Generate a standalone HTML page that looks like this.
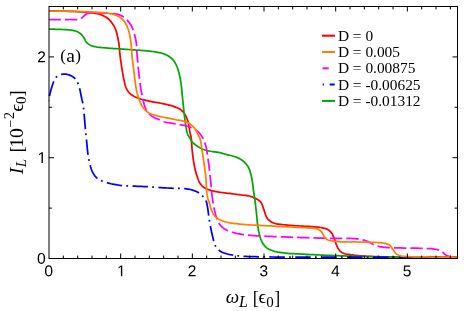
<!DOCTYPE html>
<html><head><meta charset="utf-8"><title>chart</title><style>html,body{margin:0;padding:0;background:#fff;}body{width:464px;height:311px;overflow:hidden;font-family:"Liberation Sans",sans-serif;}svg{display:block;will-change:transform;}</style></head><body>
<svg width="464" height="311" viewBox="0 0 464 311">
<rect width="464" height="311" fill="#fff"/>
<g fill="none" stroke-width="1.75" stroke-linejoin="round">
<path d="M49.00,10.80 L52.94,10.92 L56.99,11.02 L61.07,11.11 L65.14,11.21 L69.12,11.32 L72.97,11.45 L76.61,11.61 L80.00,11.80 L82.30,11.95 L84.55,12.11 L86.72,12.28 L88.80,12.45 L90.79,12.65 L92.66,12.87 L94.40,13.12 L96.00,13.40 L96.93,13.59 L97.79,13.78 L98.58,13.97 L99.34,14.18 L100.07,14.41 L100.78,14.66 L101.51,14.94 L102.25,15.25 L103.06,15.62 L103.89,16.03 L104.72,16.47 L105.53,16.93 L106.33,17.42 L107.10,17.93 L107.82,18.46 L108.50,19.00 L109.06,19.50 L109.58,20.01 L110.06,20.54 L110.53,21.08 L110.97,21.64 L111.40,22.21 L111.83,22.80 L112.25,23.40 L112.69,24.05 L113.13,24.72 L113.55,25.40 L113.96,26.10 L114.35,26.81 L114.72,27.53 L115.07,28.26 L115.40,29.00 L115.70,29.75 L115.97,30.50 L116.21,31.27 L116.44,32.05 L116.65,32.83 L116.85,33.63 L117.05,34.43 L117.25,35.25 L117.46,36.13 L117.67,37.01 L117.87,37.89 L118.05,38.79 L118.23,39.71 L118.41,40.68 L118.58,41.68 L118.75,42.75 L118.97,44.36 L119.17,46.09 L119.35,47.92 L119.52,49.82 L119.70,51.76 L119.88,53.71 L120.08,55.63 L120.30,57.50 L120.55,59.35 L120.81,61.24 L121.09,63.14 L121.37,65.03 L121.66,66.89 L121.95,68.68 L122.23,70.39 L122.50,72.00 L122.69,73.11 L122.86,74.16 L123.03,75.16 L123.20,76.13 L123.38,77.09 L123.57,78.04 L123.77,79.00 L124.00,80.00 L124.25,81.10 L124.51,82.24 L124.77,83.39 L125.05,84.54 L125.36,85.67 L125.70,86.76 L126.08,87.80 L126.50,88.75 L126.88,89.48 L127.28,90.18 L127.71,90.84 L128.16,91.47 L128.63,92.07 L129.14,92.65 L129.68,93.21 L130.25,93.75 L130.90,94.31 L131.59,94.83 L132.31,95.32 L133.07,95.79 L133.86,96.24 L134.70,96.67 L135.58,97.09 L136.50,97.50 L137.83,98.04 L139.28,98.54 L140.81,99.02 L142.41,99.47 L144.06,99.91 L145.72,100.32 L147.37,100.72 L149.00,101.10 L150.66,101.46 L152.34,101.79 L154.04,102.09 L155.75,102.37 L157.45,102.65 L159.15,102.94 L160.84,103.25 L162.50,103.60 L164.12,103.96 L165.75,104.31 L167.39,104.68 L169.02,105.06 L170.61,105.46 L172.15,105.90 L173.62,106.38 L175.00,106.90 L176.07,107.35 L177.11,107.80 L178.11,108.26 L179.08,108.76 L180.00,109.29 L180.88,109.87 L181.71,110.52 L182.50,111.25 L183.30,112.13 L184.04,113.09 L184.72,114.12 L185.36,115.22 L185.96,116.37 L186.51,117.56 L187.02,118.77 L187.50,120.00 L187.98,121.46 L188.38,123.05 L188.72,124.70 L189.01,126.39 L189.27,128.06 L189.51,129.67 L189.75,131.16 L190.00,132.50 L190.17,133.28 L190.34,133.98 L190.50,134.63 L190.65,135.25 L190.80,135.87 L190.94,136.52 L191.07,137.22 L191.20,138.00 L191.37,139.32 L191.50,140.78 L191.62,142.34 L191.72,143.96 L191.82,145.63 L191.93,147.29 L192.05,148.93 L192.20,150.50 L192.36,151.98 L192.53,153.46 L192.71,154.94 L192.89,156.41 L193.09,157.87 L193.29,159.29 L193.49,160.67 L193.70,162.00 L193.88,163.08 L194.06,164.13 L194.24,165.16 L194.42,166.16 L194.62,167.14 L194.82,168.11 L195.03,169.06 L195.25,170.00 L195.46,170.82 L195.67,171.62 L195.89,172.41 L196.11,173.18 L196.34,173.95 L196.58,174.71 L196.84,175.48 L197.10,176.25 L197.37,177.04 L197.64,177.85 L197.91,178.66 L198.19,179.46 L198.49,180.25 L198.82,181.03 L199.19,181.78 L199.60,182.50 L200.04,183.20 L200.51,183.88 L201.01,184.56 L201.54,185.21 L202.10,185.83 L202.70,186.42 L203.33,186.98 L204.00,187.50 L204.80,188.02 L205.65,188.48 L206.55,188.91 L207.49,189.29 L208.47,189.65 L209.47,189.98 L210.48,190.29 L211.50,190.60 L212.66,190.92 L213.85,191.20 L215.07,191.46 L216.32,191.69 L217.59,191.90 L218.88,192.10 L220.18,192.30 L221.50,192.50 L223.01,192.72 L224.60,192.93 L226.22,193.12 L227.86,193.31 L229.48,193.48 L231.06,193.66 L232.58,193.83 L234.00,194.00 L235.03,194.13 L236.00,194.26 L236.93,194.38 L237.84,194.50 L238.74,194.62 L239.64,194.74 L240.55,194.87 L241.50,195.00 L242.54,195.13 L243.61,195.25 L244.69,195.36 L245.77,195.48 L246.85,195.62 L247.92,195.78 L248.97,195.99 L250.00,196.25 L251.00,196.55 L252.01,196.90 L253.01,197.28 L254.00,197.70 L254.96,198.13 L255.87,198.58 L256.72,199.04 L257.50,199.50 L258.03,199.84 L258.53,200.17 L259.00,200.51 L259.44,200.85 L259.86,201.22 L260.26,201.61 L260.64,202.03 L261.00,202.50 L261.40,203.12 L261.76,203.80 L262.08,204.52 L262.38,205.29 L262.66,206.08 L262.93,206.88 L263.21,207.70 L263.50,208.50 L263.82,209.41 L264.12,210.38 L264.42,211.37 L264.71,212.37 L265.01,213.36 L265.32,214.31 L265.65,215.19 L266.00,216.00 L266.28,216.55 L266.55,217.08 L266.82,217.57 L267.11,218.04 L267.41,218.48 L267.74,218.92 L268.10,219.34 L268.50,219.75 L269.00,220.21 L269.54,220.66 L270.11,221.09 L270.72,221.50 L271.36,221.88 L272.04,222.25 L272.75,222.59 L273.50,222.90 L274.55,223.26 L275.66,223.56 L276.85,223.82 L278.09,224.03 L279.39,224.23 L280.73,224.40 L282.10,224.57 L283.50,224.75 L285.38,224.97 L287.38,225.16 L289.48,225.33 L291.63,225.48 L293.79,225.62 L295.94,225.75 L298.02,225.88 L300.00,226.00 L301.65,226.10 L303.28,226.18 L304.88,226.26 L306.45,226.33 L307.99,226.40 L309.52,226.49 L311.02,226.58 L312.50,226.70 L313.83,226.81 L315.15,226.93 L316.47,227.05 L317.76,227.18 L319.02,227.33 L320.24,227.49 L321.40,227.68 L322.50,227.90 L323.30,228.08 L324.06,228.26 L324.80,228.44 L325.51,228.64 L326.20,228.86 L326.86,229.12 L327.49,229.41 L328.10,229.75 L328.66,230.12 L329.19,230.52 L329.70,230.95 L330.18,231.41 L330.64,231.90 L331.08,232.42 L331.50,232.95 L331.90,233.50 L332.29,234.12 L332.64,234.77 L332.97,235.45 L333.26,236.16 L333.55,236.88 L333.83,237.61 L334.11,238.36 L334.40,239.10 L334.72,239.93 L335.02,240.80 L335.31,241.69 L335.60,242.59 L335.90,243.48 L336.21,244.35 L336.54,245.20 L336.90,246.00 L337.24,246.69 L337.59,247.38 L337.95,248.06 L338.32,248.72 L338.71,249.35 L339.11,249.94 L339.54,250.50 L340.00,251.00 L340.41,251.40 L340.84,251.76 L341.28,252.09 L341.73,252.39 L342.20,252.67 L342.69,252.93 L343.21,253.17 L343.75,253.40 L344.43,253.64 L345.14,253.83 L345.89,253.99 L346.66,254.13 L347.46,254.25 L348.29,254.36 L349.13,254.47 L350.00,254.60 L351.12,254.77 L352.28,254.94 L353.49,255.10 L354.72,255.25 L355.99,255.40 L357.30,255.54 L358.64,255.68 L360.00,255.80 L361.70,255.94 L363.44,256.06 L365.23,256.17 L367.07,256.27 L368.96,256.36 L370.91,256.45 L372.92,256.53 L375.00,256.60 L377.75,256.69 L380.56,256.76 L383.46,256.82 L386.46,256.86 L389.59,256.90 L392.88,256.94 L396.34,256.97 L400.00,257.00 L406.06,257.03 L412.72,257.05 L419.83,257.05 L427.27,257.05 L434.90,257.03 L442.57,257.02 L450.15,257.00 L457.50,257.00" stroke="#ff0000"/>
<path d="M49.00,29.10 L50.38,29.14 L51.76,29.17 L53.15,29.20 L54.53,29.23 L55.91,29.26 L57.29,29.30 L58.65,29.35 L60.00,29.40 L61.29,29.45 L62.59,29.50 L63.89,29.56 L65.18,29.61 L66.45,29.68 L67.68,29.77 L68.87,29.87 L70.00,30.00 L70.86,30.11 L71.70,30.23 L72.52,30.35 L73.31,30.48 L74.08,30.63 L74.82,30.80 L75.55,31.01 L76.25,31.25 L76.86,31.49 L77.44,31.75 L78.01,32.03 L78.57,32.34 L79.10,32.66 L79.62,33.00 L80.12,33.37 L80.60,33.75 L81.05,34.15 L81.48,34.58 L81.89,35.04 L82.29,35.51 L82.67,36.00 L83.04,36.49 L83.40,37.00 L83.75,37.50 L84.09,38.03 L84.39,38.59 L84.68,39.16 L84.96,39.74 L85.25,40.32 L85.55,40.87 L85.88,41.41 L86.25,41.90 L86.65,42.35 L87.06,42.79 L87.50,43.21 L87.95,43.61 L88.43,43.99 L88.93,44.35 L89.45,44.69 L90.00,45.00 L90.67,45.33 L91.37,45.62 L92.11,45.88 L92.87,46.12 L93.67,46.33 L94.50,46.53 L95.36,46.72 L96.25,46.90 L97.50,47.12 L98.84,47.32 L100.25,47.48 L101.70,47.63 L103.18,47.75 L104.65,47.87 L106.10,47.99 L107.50,48.10 L108.77,48.20 L110.01,48.29 L111.24,48.37 L112.47,48.45 L113.69,48.52 L114.94,48.59 L116.20,48.67 L117.50,48.75 L119.01,48.85 L120.56,48.96 L122.15,49.06 L123.75,49.17 L125.35,49.28 L126.94,49.39 L128.49,49.50 L130.00,49.60 L131.30,49.69 L132.55,49.77 L133.78,49.85 L135.00,49.93 L136.22,50.01 L137.45,50.10 L138.70,50.20 L140.00,50.30 L141.51,50.42 L143.06,50.54 L144.65,50.67 L146.26,50.81 L147.86,50.95 L149.45,51.11 L151.00,51.30 L152.50,51.50 L153.83,51.70 L155.15,51.90 L156.45,52.12 L157.74,52.35 L158.99,52.60 L160.21,52.87 L161.38,53.17 L162.50,53.50 L163.38,53.79 L164.22,54.08 L165.04,54.40 L165.83,54.73 L166.60,55.07 L167.34,55.44 L168.06,55.83 L168.75,56.25 L169.37,56.65 L169.96,57.08 L170.53,57.52 L171.08,57.98 L171.62,58.46 L172.13,58.95 L172.62,59.47 L173.10,60.00 L173.56,60.56 L174.00,61.14 L174.42,61.75 L174.82,62.37 L175.20,63.01 L175.56,63.66 L175.91,64.33 L176.25,65.00 L176.59,65.73 L176.91,66.48 L177.20,67.24 L177.48,68.02 L177.75,68.81 L178.01,69.62 L178.26,70.43 L178.50,71.25 L178.76,72.15 L179.00,73.06 L179.23,74.00 L179.46,74.94 L179.67,75.89 L179.87,76.84 L180.07,77.80 L180.25,78.75 L180.42,79.69 L180.58,80.61 L180.73,81.52 L180.87,82.44 L181.00,83.38 L181.13,84.36 L181.26,85.40 L181.40,86.50 L181.60,88.22 L181.80,90.08 L181.99,92.05 L182.18,94.10 L182.38,96.19 L182.58,98.32 L182.79,100.43 L183.00,102.50 L183.23,104.67 L183.46,106.87 L183.69,109.10 L183.93,111.34 L184.17,113.56 L184.43,115.76 L184.71,117.91 L185.00,120.00 L185.26,121.85 L185.52,123.73 L185.79,125.60 L186.06,127.44 L186.37,129.20 L186.70,130.86 L187.07,132.39 L187.50,133.75 L187.81,134.53 L188.15,135.24 L188.51,135.91 L188.88,136.53 L189.25,137.12 L189.62,137.68 L189.97,138.22 L190.30,138.75 L190.52,139.13 L190.72,139.49 L190.91,139.84 L191.09,140.17 L191.29,140.49 L191.50,140.82 L191.73,141.15 L192.00,141.50 L192.41,141.99 L192.85,142.49 L193.33,142.99 L193.85,143.51 L194.40,144.02 L194.98,144.52 L195.60,145.02 L196.25,145.50 L197.15,146.11 L198.11,146.73 L199.13,147.34 L200.21,147.93 L201.34,148.50 L202.52,149.04 L203.74,149.54 L205.00,150.00 L206.70,150.49 L208.59,150.90 L210.59,151.25 L212.64,151.55 L214.68,151.83 L216.63,152.10 L218.42,152.39 L220.00,152.70 L220.88,152.91 L221.68,153.13 L222.42,153.34 L223.13,153.55 L223.82,153.77 L224.52,153.98 L225.24,154.19 L226.00,154.40 L226.90,154.63 L227.83,154.85 L228.79,155.06 L229.75,155.27 L230.71,155.50 L231.66,155.73 L232.60,155.98 L233.50,156.25 L234.32,156.52 L235.14,156.79 L235.94,157.07 L236.74,157.36 L237.52,157.68 L238.28,158.01 L239.03,158.36 L239.75,158.75 L240.43,159.15 L241.10,159.57 L241.75,160.00 L242.39,160.46 L243.01,160.94 L243.61,161.44 L244.19,161.96 L244.75,162.50 L245.29,163.05 L245.81,163.63 L246.31,164.21 L246.79,164.82 L247.25,165.46 L247.69,166.11 L248.11,166.79 L248.50,167.50 L248.91,168.34 L249.28,169.23 L249.61,170.16 L249.93,171.12 L250.21,172.09 L250.49,173.07 L250.75,174.04 L251.00,175.00 L251.24,175.94 L251.46,176.88 L251.66,177.83 L251.85,178.78 L252.03,179.73 L252.20,180.67 L252.35,181.59 L252.50,182.50 L252.62,183.31 L252.73,184.10 L252.82,184.89 L252.90,185.67 L252.99,186.44 L253.07,187.21 L253.15,187.98 L253.25,188.75 L253.35,189.50 L253.45,190.22 L253.55,190.94 L253.66,191.66 L253.76,192.39 L253.87,193.15 L253.98,193.93 L254.10,194.75 L254.26,195.88 L254.43,197.06 L254.61,198.30 L254.79,199.57 L254.98,200.86 L255.16,202.16 L255.33,203.46 L255.50,204.75 L255.66,206.08 L255.83,207.44 L255.98,208.81 L256.14,210.18 L256.28,211.54 L256.43,212.89 L256.57,214.21 L256.70,215.50 L256.81,216.61 L256.90,217.69 L256.99,218.75 L257.07,219.79 L257.16,220.83 L257.26,221.88 L257.37,222.93 L257.50,224.00 L257.66,225.14 L257.82,226.30 L257.99,227.47 L258.18,228.64 L258.38,229.80 L258.60,230.96 L258.84,232.09 L259.10,233.20 L259.35,234.22 L259.61,235.24 L259.87,236.24 L260.16,237.23 L260.47,238.21 L260.81,239.16 L261.18,240.10 L261.60,241.00 L262.04,241.86 L262.50,242.71 L262.99,243.55 L263.51,244.37 L264.07,245.15 L264.66,245.90 L265.31,246.60 L266.00,247.25 L266.79,247.87 L267.63,248.43 L268.53,248.95 L269.47,249.42 L270.45,249.86 L271.45,250.27 L272.47,250.64 L273.50,251.00 L274.64,251.35 L275.79,251.66 L276.96,251.92 L278.16,252.15 L279.41,252.35 L280.71,252.54 L282.07,252.72 L283.50,252.90 L285.68,253.14 L288.05,253.35 L290.57,253.52 L293.18,253.68 L295.83,253.81 L298.47,253.94 L301.04,254.07 L303.50,254.20 L305.61,254.32 L307.63,254.42 L309.61,254.52 L311.58,254.62 L313.56,254.71 L315.61,254.81 L317.74,254.90 L320.00,255.00 L323.15,255.14 L326.49,255.28 L329.98,255.42 L333.57,255.57 L337.21,255.71 L340.86,255.85 L344.47,255.98 L348.00,256.10 L351.41,256.21 L354.81,256.31 L358.21,256.41 L361.59,256.50 L364.97,256.59 L368.33,256.67 L371.68,256.74 L375.00,256.80 L378.10,256.85 L381.08,256.89 L383.99,256.92 L386.92,256.94 L389.92,256.96 L393.05,256.97 L396.39,256.99 L400.00,257.00 L406.06,257.02 L412.72,257.03 L419.83,257.03 L427.27,257.02 L434.90,257.02 L442.57,257.01 L450.15,257.00 L457.50,257.00" stroke="#00a800"/>
<path d="M49.00,100.80 L49.07,100.13 L49.12,99.48 L49.18,98.83 L49.23,98.18 L49.30,97.52 L49.37,96.84 L49.47,96.13 L49.60,95.40 L49.81,94.37 L50.07,93.27 L50.36,92.12 L50.68,90.94 L51.01,89.77 L51.35,88.62 L51.68,87.52 L52.00,86.50 L52.24,85.74 L52.48,85.00 L52.71,84.29 L52.95,83.60 L53.19,82.93 L53.44,82.27 L53.71,81.63 L54.00,81.00 L54.27,80.43 L54.54,79.87 L54.81,79.32 L55.10,78.78 L55.40,78.27 L55.73,77.78 L56.10,77.32 L56.50,76.90 L56.96,76.51 L57.47,76.15 L58.02,75.82 L58.59,75.52 L59.18,75.24 L59.77,75.00 L60.34,74.79 L60.90,74.60 L61.37,74.46 L61.84,74.35 L62.30,74.27 L62.77,74.20 L63.23,74.15 L63.69,74.12 L64.15,74.10 L64.60,74.10 L65.03,74.11 L65.46,74.14 L65.88,74.18 L66.30,74.23 L66.72,74.30 L67.14,74.39 L67.57,74.49 L68.00,74.60 L68.50,74.75 L69.00,74.92 L69.52,75.11 L70.03,75.32 L70.54,75.54 L71.04,75.78 L71.53,76.04 L72.00,76.30 L72.44,76.56 L72.88,76.84 L73.30,77.12 L73.72,77.42 L74.12,77.74 L74.52,78.07 L74.89,78.42 L75.25,78.80 L75.62,79.24 L75.97,79.70 L76.30,80.19 L76.62,80.70 L76.92,81.23 L77.21,81.78 L77.48,82.33 L77.75,82.90 L78.03,83.54 L78.29,84.19 L78.53,84.86 L78.75,85.54 L78.97,86.25 L79.18,86.97 L79.39,87.72 L79.60,88.50 L79.86,89.53 L80.12,90.65 L80.36,91.81 L80.60,93.00 L80.83,94.19 L81.06,95.35 L81.28,96.47 L81.50,97.50 L81.67,98.26 L81.84,98.98 L82.00,99.69 L82.17,100.37 L82.32,101.04 L82.47,101.69 L82.62,102.35 L82.75,103.00 L82.86,103.56 L82.96,104.08 L83.05,104.58 L83.14,105.07 L83.23,105.59 L83.32,106.16 L83.41,106.78 L83.50,107.50 L83.71,109.34 L83.92,111.57 L84.14,114.09 L84.36,116.81 L84.59,119.61 L84.81,122.39 L85.03,125.06 L85.25,127.50 L85.43,129.44 L85.62,131.34 L85.81,133.21 L85.99,135.04 L86.18,136.84 L86.35,138.59 L86.53,140.32 L86.70,142.00 L86.83,143.40 L86.96,144.75 L87.07,146.07 L87.19,147.37 L87.31,148.66 L87.44,149.94 L87.58,151.21 L87.75,152.50 L87.92,153.77 L88.10,155.02 L88.29,156.28 L88.49,157.53 L88.71,158.78 L88.95,160.02 L89.21,161.26 L89.50,162.50 L89.82,163.78 L90.15,165.08 L90.49,166.40 L90.87,167.70 L91.27,168.98 L91.72,170.22 L92.21,171.40 L92.75,172.50 L93.26,173.41 L93.79,174.29 L94.35,175.13 L94.94,175.94 L95.57,176.70 L96.25,177.43 L96.97,178.11 L97.75,178.75 L98.67,179.38 L99.65,179.94 L100.70,180.45 L101.79,180.91 L102.93,181.33 L104.10,181.73 L105.29,182.12 L106.50,182.50 L107.94,182.94 L109.44,183.34 L110.99,183.73 L112.58,184.08 L114.18,184.40 L115.80,184.70 L117.41,184.97 L119.00,185.20 L120.57,185.39 L122.13,185.54 L123.69,185.65 L125.26,185.73 L126.83,185.79 L128.43,185.86 L130.05,185.92 L131.70,186.00 L133.58,186.10 L135.54,186.18 L137.53,186.27 L139.55,186.35 L141.55,186.43 L143.51,186.52 L145.40,186.61 L147.20,186.70 L148.59,186.78 L149.90,186.87 L151.16,186.95 L152.40,187.04 L153.64,187.13 L154.90,187.22 L156.22,187.31 L157.60,187.40 L159.41,187.51 L161.33,187.64 L163.32,187.76 L165.35,187.88 L167.38,188.00 L169.37,188.12 L171.29,188.22 L173.10,188.30 L174.50,188.35 L175.87,188.38 L177.21,188.40 L178.51,188.42 L179.78,188.44 L181.02,188.47 L182.23,188.52 L183.40,188.60 L184.33,188.67 L185.22,188.74 L186.08,188.82 L186.92,188.91 L187.76,189.01 L188.59,189.14 L189.44,189.30 L190.30,189.50 L191.28,189.76 L192.30,190.05 L193.33,190.38 L194.36,190.74 L195.37,191.12 L196.34,191.53 L197.26,191.96 L198.10,192.40 L198.73,192.77 L199.32,193.16 L199.89,193.56 L200.42,193.97 L200.93,194.40 L201.43,194.85 L201.92,195.31 L202.40,195.80 L202.90,196.32 L203.39,196.86 L203.87,197.42 L204.34,198.00 L204.78,198.60 L205.19,199.22 L205.57,199.85 L205.90,200.50 L206.19,201.17 L206.43,201.85 L206.62,202.54 L206.79,203.26 L206.94,204.00 L207.08,204.78 L207.23,205.61 L207.40,206.50 L207.67,208.01 L207.92,209.67 L208.17,211.46 L208.41,213.34 L208.66,215.27 L208.92,217.21 L209.20,219.14 L209.50,221.00 L209.83,222.89 L210.17,224.81 L210.53,226.75 L210.90,228.69 L211.29,230.60 L211.68,232.47 L212.09,234.28 L212.50,236.00 L212.83,237.38 L213.15,238.75 L213.46,240.09 L213.79,241.40 L214.14,242.65 L214.54,243.84 L214.98,244.96 L215.50,246.00 L215.96,246.77 L216.44,247.49 L216.95,248.17 L217.49,248.80 L218.07,249.40 L218.67,249.96 L219.32,250.50 L220.00,251.00 L220.79,251.51 L221.63,251.96 L222.52,252.37 L223.44,252.74 L224.41,253.08 L225.41,253.40 L226.44,253.70 L227.50,254.00 L228.87,254.35 L230.28,254.66 L231.74,254.94 L233.26,255.19 L234.84,255.42 L236.49,255.63 L238.20,255.82 L240.00,256.00 L242.68,256.22 L245.54,256.40 L248.55,256.53 L251.69,256.64 L254.94,256.72 L258.25,256.78 L261.61,256.84 L265.00,256.90 L268.92,256.96 L272.75,257.00 L276.59,257.02 L280.56,257.02 L284.77,257.01 L289.34,257.00 L294.38,257.00 L300.00,257.00 L314.27,257.01 L331.42,257.02 L350.77,257.02 L371.68,257.02 L393.46,257.01 L415.47,257.01 L437.04,257.00 L457.50,257.00" stroke="#0000ff" stroke-dasharray="15.5 4.2 1.8 4.4" stroke-dashoffset="21.2"/>
<path d="M49.00,19.50 L51.68,19.50 L54.45,19.51 L57.25,19.52 L60.03,19.52 L62.74,19.53 L65.34,19.53 L67.78,19.52 L70.00,19.50 L71.38,19.50 L72.74,19.53 L74.04,19.56 L75.28,19.59 L76.44,19.59 L77.51,19.55 L78.47,19.46 L79.30,19.30 L79.69,19.18 L80.03,19.05 L80.33,18.91 L80.61,18.75 L80.87,18.58 L81.14,18.40 L81.41,18.21 L81.70,18.00 L82.08,17.72 L82.47,17.39 L82.86,17.04 L83.25,16.68 L83.64,16.31 L84.03,15.95 L84.42,15.61 L84.80,15.30 L85.13,15.05 L85.45,14.81 L85.77,14.57 L86.09,14.34 L86.41,14.13 L86.74,13.93 L87.07,13.76 L87.40,13.60 L87.70,13.48 L88.00,13.37 L88.28,13.29 L88.58,13.21 L88.89,13.15 L89.22,13.10 L89.59,13.05 L90.00,13.00 L90.93,12.93 L92.02,12.90 L93.23,12.90 L94.53,12.93 L95.89,12.97 L97.28,13.02 L98.66,13.06 L100.00,13.10 L101.50,13.13 L103.07,13.15 L104.69,13.17 L106.31,13.20 L107.91,13.24 L109.45,13.30 L110.91,13.39 L112.25,13.50 L113.14,13.60 L113.98,13.69 L114.79,13.80 L115.57,13.92 L116.32,14.05 L117.05,14.21 L117.78,14.39 L118.50,14.60 L119.17,14.82 L119.83,15.06 L120.48,15.32 L121.12,15.60 L121.74,15.89 L122.35,16.21 L122.93,16.55 L123.50,16.90 L124.02,17.26 L124.52,17.63 L125.00,18.03 L125.46,18.44 L125.91,18.87 L126.36,19.31 L126.81,19.77 L127.25,20.25 L127.75,20.81 L128.25,21.39 L128.74,22.00 L129.23,22.62 L129.70,23.27 L130.16,23.92 L130.59,24.58 L131.00,25.25 L131.38,25.92 L131.73,26.61 L132.07,27.31 L132.39,28.02 L132.69,28.74 L132.97,29.46 L133.24,30.18 L133.50,30.90 L133.73,31.59 L133.95,32.28 L134.14,32.98 L134.33,33.67 L134.50,34.37 L134.67,35.07 L134.83,35.78 L135.00,36.50 L135.18,37.24 L135.35,37.97 L135.51,38.70 L135.67,39.43 L135.83,40.19 L135.98,40.99 L136.12,41.84 L136.25,42.75 L136.43,44.30 L136.58,46.02 L136.71,47.87 L136.82,49.81 L136.93,51.78 L137.04,53.75 L137.16,55.67 L137.30,57.50 L137.44,59.10 L137.58,60.67 L137.72,62.21 L137.86,63.75 L138.01,65.28 L138.17,66.82 L138.33,68.39 L138.50,70.00 L138.69,71.83 L138.90,73.73 L139.10,75.66 L139.32,77.61 L139.54,79.54 L139.77,81.43 L140.01,83.26 L140.25,85.00 L140.45,86.34 L140.64,87.62 L140.84,88.86 L141.04,90.07 L141.25,91.27 L141.48,92.48 L141.73,93.72 L142.00,95.00 L142.33,96.53 L142.67,98.15 L143.03,99.80 L143.42,101.47 L143.83,103.11 L144.27,104.68 L144.74,106.16 L145.25,107.50 L145.65,108.43 L146.07,109.31 L146.50,110.14 L146.95,110.94 L147.42,111.69 L147.92,112.41 L148.44,113.10 L149.00,113.75 L149.55,114.32 L150.14,114.86 L150.75,115.37 L151.38,115.85 L152.03,116.30 L152.69,116.72 L153.35,117.12 L154.00,117.50 L154.61,117.82 L155.22,118.09 L155.83,118.34 L156.45,118.57 L157.08,118.79 L157.71,119.01 L158.35,119.25 L159.00,119.50 L159.71,119.80 L160.42,120.13 L161.13,120.46 L161.86,120.79 L162.60,121.12 L163.36,121.44 L164.16,121.73 L165.00,122.00 L166.11,122.29 L167.28,122.53 L168.50,122.75 L169.76,122.94 L171.05,123.13 L172.36,123.32 L173.68,123.52 L175.00,123.75 L176.51,124.02 L178.07,124.27 L179.67,124.52 L181.28,124.78 L182.89,125.07 L184.48,125.41 L186.02,125.79 L187.50,126.25 L188.86,126.73 L190.22,127.25 L191.56,127.81 L192.87,128.41 L194.13,129.05 L195.34,129.74 L196.47,130.47 L197.50,131.25 L198.33,131.98 L199.09,132.76 L199.81,133.58 L200.47,134.42 L201.09,135.30 L201.67,136.19 L202.22,137.09 L202.75,138.00 L203.23,138.88 L203.66,139.77 L204.06,140.67 L204.43,141.58 L204.77,142.52 L205.09,143.48 L205.40,144.47 L205.70,145.50 L206.04,146.78 L206.33,148.11 L206.60,149.48 L206.85,150.89 L207.08,152.33 L207.31,153.80 L207.53,155.27 L207.75,156.75 L208.00,158.41 L208.23,160.11 L208.46,161.84 L208.68,163.59 L208.89,165.35 L209.10,167.09 L209.30,168.82 L209.50,170.50 L209.68,172.04 L209.85,173.54 L210.02,175.04 L210.18,176.52 L210.34,178.00 L210.49,179.48 L210.65,180.98 L210.80,182.50 L210.95,184.12 L211.10,185.77 L211.24,187.44 L211.38,189.12 L211.52,190.78 L211.67,192.41 L211.83,193.99 L212.00,195.50 L212.15,196.70 L212.31,197.84 L212.46,198.95 L212.63,200.04 L212.80,201.12 L212.98,202.22 L213.18,203.34 L213.40,204.50 L213.67,205.89 L213.95,207.34 L214.24,208.83 L214.56,210.33 L214.89,211.83 L215.24,213.28 L215.61,214.68 L216.00,216.00 L216.33,217.04 L216.65,218.05 L216.98,219.03 L217.33,219.98 L217.71,220.90 L218.12,221.80 L218.58,222.66 L219.10,223.50 L219.67,224.30 L220.29,225.09 L220.95,225.84 L221.65,226.57 L222.39,227.26 L223.15,227.92 L223.94,228.53 L224.75,229.10 L225.59,229.62 L226.46,230.09 L227.35,230.51 L228.28,230.90 L229.23,231.26 L230.21,231.60 L231.21,231.92 L232.25,232.25 L233.54,232.63 L234.90,232.97 L236.31,233.30 L237.75,233.60 L239.21,233.88 L240.67,234.14 L242.10,234.38 L243.50,234.60 L244.77,234.78 L246.02,234.94 L247.26,235.08 L248.49,235.20 L249.72,235.31 L250.96,235.41 L252.22,235.50 L253.50,235.60 L254.88,235.70 L256.26,235.79 L257.64,235.86 L259.04,235.93 L260.46,236.00 L261.93,236.06 L263.43,236.13 L265.00,236.20 L267.05,236.29 L269.19,236.38 L271.40,236.47 L273.68,236.56 L275.99,236.64 L278.32,236.73 L280.67,236.81 L283.00,236.90 L285.51,236.99 L288.08,237.08 L290.69,237.17 L293.31,237.26 L295.92,237.35 L298.50,237.44 L301.03,237.52 L303.50,237.60 L305.64,237.67 L307.71,237.74 L309.75,237.81 L311.76,237.87 L313.77,237.93 L315.81,237.99 L317.87,238.05 L320.00,238.10 L322.44,238.15 L324.98,238.20 L327.58,238.24 L330.20,238.28 L332.79,238.31 L335.31,238.34 L337.73,238.37 L340.00,238.40 L341.68,238.41 L343.32,238.42 L344.92,238.42 L346.47,238.42 L347.97,238.43 L349.39,238.44 L350.74,238.46 L352.00,238.50 L352.81,238.53 L353.57,238.57 L354.29,238.61 L354.98,238.66 L355.64,238.71 L356.30,238.76 L356.95,238.83 L357.60,238.90 L358.17,238.96 L358.72,239.03 L359.25,239.09 L359.78,239.17 L360.31,239.25 L360.85,239.35 L361.41,239.46 L362.00,239.60 L362.81,239.82 L363.67,240.07 L364.57,240.36 L365.48,240.67 L366.39,241.00 L367.28,241.33 L368.12,241.67 L368.90,242.00 L369.47,242.27 L370.00,242.54 L370.51,242.82 L371.00,243.10 L371.48,243.39 L371.97,243.67 L372.47,243.94 L373.00,244.20 L373.59,244.47 L374.18,244.75 L374.78,245.02 L375.39,245.28 L376.01,245.53 L376.65,245.77 L377.31,246.00 L378.00,246.20 L378.84,246.42 L379.71,246.61 L380.60,246.77 L381.52,246.92 L382.47,247.06 L383.45,247.18 L384.46,247.29 L385.50,247.40 L386.88,247.52 L388.30,247.61 L389.76,247.68 L391.28,247.73 L392.86,247.77 L394.50,247.81 L396.21,247.85 L398.00,247.90 L400.77,247.97 L403.85,248.02 L407.12,248.07 L410.50,248.11 L413.88,248.16 L417.15,248.22 L420.23,248.30 L423.00,248.40 L424.80,248.47 L426.53,248.52 L428.20,248.57 L429.80,248.64 L431.33,248.72 L432.79,248.85 L434.18,249.02 L435.50,249.25 L436.41,249.45 L437.28,249.68 L438.11,249.92 L438.90,250.19 L439.66,250.48 L440.39,250.79 L441.08,251.13 L441.75,251.50 L442.29,251.86 L442.79,252.26 L443.25,252.70 L443.70,253.14 L444.13,253.59 L444.57,254.01 L445.02,254.41 L445.50,254.75 L445.95,255.02 L446.41,255.27 L446.88,255.51 L447.35,255.72 L447.82,255.91 L448.29,256.09 L448.77,256.25 L449.25,256.40 L449.71,256.53 L450.17,256.63 L450.63,256.72 L451.09,256.80 L451.56,256.86 L452.03,256.91 L452.51,256.96 L453.00,257.00 L453.54,257.03 L454.09,257.05 L454.66,257.05 L455.22,257.04 L455.79,257.03 L456.36,257.02 L456.93,257.00 L457.50,257.00" stroke="#ff00ff" stroke-dasharray="12.4 4.0" stroke-dashoffset="0.5"/>
<path d="M49.00,11.00 L52.94,11.06 L56.99,11.11 L61.07,11.16 L65.14,11.22 L69.12,11.27 L72.96,11.34 L76.61,11.41 L80.00,11.50 L82.26,11.57 L84.42,11.64 L86.47,11.71 L88.45,11.79 L90.38,11.87 L92.26,11.97 L94.13,12.08 L96.00,12.20 L97.66,12.32 L99.31,12.43 L100.95,12.55 L102.55,12.68 L104.12,12.83 L105.64,13.00 L107.11,13.18 L108.50,13.40 L109.55,13.58 L110.56,13.77 L111.54,13.97 L112.49,14.18 L113.41,14.41 L114.30,14.67 L115.16,14.94 L116.00,15.25 L116.70,15.53 L117.37,15.83 L118.03,16.14 L118.66,16.47 L119.27,16.82 L119.87,17.19 L120.44,17.58 L121.00,18.00 L121.53,18.44 L122.04,18.90 L122.53,19.37 L123.00,19.88 L123.46,20.40 L123.90,20.94 L124.33,21.51 L124.75,22.10 L125.21,22.80 L125.65,23.54 L126.07,24.31 L126.48,25.11 L126.86,25.92 L127.23,26.75 L127.58,27.58 L127.90,28.40 L128.20,29.23 L128.47,30.07 L128.72,30.91 L128.95,31.77 L129.16,32.63 L129.36,33.50 L129.56,34.37 L129.75,35.25 L129.94,36.15 L130.12,37.04 L130.28,37.92 L130.44,38.81 L130.58,39.73 L130.73,40.68 L130.86,41.69 L131.00,42.75 L131.18,44.36 L131.33,46.09 L131.47,47.92 L131.60,49.82 L131.73,51.76 L131.87,53.71 L132.02,55.63 L132.20,57.50 L132.40,59.34 L132.62,61.19 L132.85,63.05 L133.08,64.91 L133.32,66.74 L133.56,68.54 L133.79,70.30 L134.00,72.00 L134.16,73.40 L134.32,74.75 L134.46,76.07 L134.61,77.37 L134.75,78.66 L134.91,79.94 L135.07,81.21 L135.25,82.50 L135.43,83.76 L135.62,85.02 L135.81,86.28 L136.00,87.53 L136.22,88.78 L136.45,90.02 L136.71,91.26 L137.00,92.50 L137.33,93.78 L137.68,95.08 L138.05,96.38 L138.45,97.68 L138.87,98.96 L139.31,100.20 L139.77,101.38 L140.25,102.50 L140.66,103.38 L141.08,104.24 L141.52,105.06 L141.97,105.86 L142.44,106.62 L142.93,107.36 L143.45,108.07 L144.00,108.75 L144.54,109.37 L145.09,109.96 L145.66,110.53 L146.25,111.07 L146.88,111.59 L147.54,112.08 L148.24,112.55 L149.00,113.00 L150.09,113.54 L151.33,114.04 L152.67,114.50 L154.06,114.93 L155.44,115.32 L156.76,115.67 L157.96,115.98 L159.00,116.25 L159.51,116.38 L159.95,116.49 L160.34,116.58 L160.72,116.65 L161.10,116.73 L161.51,116.80 L161.97,116.89 L162.50,117.00 L163.69,117.24 L165.08,117.51 L166.63,117.81 L168.27,118.13 L169.98,118.46 L171.70,118.81 L173.39,119.15 L175.00,119.50 L176.59,119.82 L178.23,120.11 L179.87,120.39 L181.51,120.69 L183.12,121.03 L184.67,121.43 L186.14,121.91 L187.50,122.50 L188.62,123.11 L189.69,123.80 L190.72,124.54 L191.69,125.34 L192.61,126.17 L193.47,127.02 L194.27,127.89 L195.00,128.75 L195.56,129.50 L196.05,130.27 L196.49,131.07 L196.89,131.88 L197.26,132.69 L197.61,133.48 L197.96,134.26 L198.30,135.00 L198.58,135.58 L198.85,136.12 L199.11,136.64 L199.36,137.15 L199.59,137.68 L199.82,138.23 L200.04,138.84 L200.25,139.50 L200.54,140.63 L200.81,141.88 L201.04,143.22 L201.26,144.64 L201.47,146.10 L201.67,147.58 L201.88,149.06 L202.10,150.50 L202.34,152.02 L202.58,153.55 L202.83,155.10 L203.07,156.65 L203.30,158.22 L203.54,159.80 L203.77,161.40 L204.00,163.00 L204.24,164.70 L204.48,166.40 L204.72,168.10 L204.95,169.82 L205.18,171.57 L205.40,173.34 L205.60,175.15 L205.80,177.00 L205.99,179.24 L206.14,181.64 L206.26,184.12 L206.37,186.61 L206.50,189.06 L206.66,191.41 L206.87,193.57 L207.15,195.50 L207.37,196.61 L207.61,197.62 L207.87,198.56 L208.15,199.46 L208.43,200.33 L208.72,201.19 L209.01,202.08 L209.30,203.00 L209.59,204.00 L209.88,205.03 L210.17,206.08 L210.46,207.12 L210.77,208.15 L211.09,209.15 L211.43,210.10 L211.80,211.00 L212.12,211.71 L212.44,212.39 L212.77,213.05 L213.11,213.68 L213.47,214.29 L213.87,214.88 L214.29,215.45 L214.75,216.00 L215.27,216.55 L215.82,217.07 L216.41,217.58 L217.03,218.06 L217.67,218.51 L218.34,218.95 L219.04,219.36 L219.75,219.75 L220.58,220.16 L221.44,220.52 L222.32,220.86 L223.24,221.17 L224.20,221.46 L225.18,221.73 L226.20,221.99 L227.25,222.25 L228.65,222.56 L230.12,222.84 L231.66,223.09 L233.25,223.32 L234.87,223.53 L236.50,223.73 L238.13,223.92 L239.75,224.10 L241.44,224.27 L243.17,224.43 L244.91,224.56 L246.66,224.68 L248.40,224.79 L250.13,224.90 L251.83,225.00 L253.50,225.10 L254.97,225.19 L256.40,225.27 L257.80,225.34 L259.20,225.41 L260.59,225.48 L262.02,225.55 L263.48,225.62 L265.00,225.70 L266.86,225.79 L268.78,225.89 L270.75,225.99 L272.75,226.09 L274.78,226.19 L276.84,226.29 L278.92,226.39 L281.00,226.50 L283.32,226.62 L285.73,226.74 L288.18,226.87 L290.65,227.00 L293.09,227.13 L295.49,227.25 L297.80,227.38 L300.00,227.50 L301.73,227.59 L303.44,227.67 L305.13,227.75 L306.77,227.83 L308.34,227.92 L309.84,228.01 L311.23,228.12 L312.50,228.25 L313.24,228.33 L313.94,228.40 L314.59,228.47 L315.21,228.54 L315.80,228.63 L316.38,228.75 L316.94,228.90 L317.50,229.10 L318.02,229.32 L318.53,229.57 L319.02,229.84 L319.49,230.14 L319.95,230.46 L320.40,230.81 L320.83,231.19 L321.25,231.60 L321.70,232.13 L322.11,232.72 L322.50,233.37 L322.87,234.05 L323.24,234.73 L323.61,235.40 L323.99,236.03 L324.40,236.60 L324.76,237.06 L325.12,237.51 L325.47,237.95 L325.84,238.36 L326.21,238.76 L326.61,239.12 L327.04,239.46 L327.50,239.75 L328.03,240.02 L328.58,240.23 L329.16,240.41 L329.76,240.55 L330.40,240.67 L331.06,240.78 L331.76,240.88 L332.50,241.00 L333.68,241.17 L334.96,241.32 L336.33,241.45 L337.77,241.57 L339.25,241.67 L340.75,241.76 L342.26,241.83 L343.75,241.90 L345.43,241.96 L347.20,241.99 L349.01,242.00 L350.83,242.00 L352.62,241.99 L354.35,241.98 L355.99,241.98 L357.50,242.00 L358.47,242.02 L359.37,242.04 L360.21,242.07 L361.02,242.09 L361.83,242.12 L362.66,242.15 L363.54,242.17 L364.50,242.20 L365.91,242.23 L367.45,242.25 L369.06,242.27 L370.73,242.30 L372.39,242.33 L374.02,242.37 L375.57,242.42 L377.00,242.50 L378.04,242.57 L379.05,242.63 L380.03,242.70 L380.98,242.78 L381.90,242.87 L382.79,242.99 L383.66,243.13 L384.50,243.30 L385.19,243.46 L385.88,243.63 L386.54,243.80 L387.19,244.00 L387.81,244.22 L388.40,244.47 L388.97,244.76 L389.50,245.10 L389.97,245.48 L390.39,245.90 L390.79,246.36 L391.16,246.85 L391.52,247.36 L391.87,247.88 L392.23,248.39 L392.60,248.90 L392.99,249.44 L393.36,250.00 L393.73,250.58 L394.10,251.16 L394.47,251.73 L394.87,252.28 L395.29,252.79 L395.75,253.25 L396.23,253.65 L396.73,254.03 L397.25,254.39 L397.79,254.71 L398.34,255.01 L398.92,255.29 L399.50,255.53 L400.10,255.75 L400.75,255.94 L401.42,256.09 L402.11,256.20 L402.81,256.28 L403.53,256.34 L404.26,256.39 L405.00,256.44 L405.75,256.50 L406.59,256.57 L407.43,256.62 L408.27,256.66 L409.13,256.69 L410.02,256.72 L410.95,256.75 L411.94,256.77 L413.00,256.80 L414.76,256.84 L416.65,256.88 L418.67,256.91 L420.80,256.93 L423.01,256.95 L425.30,256.97 L427.63,256.99 L430.00,257.00 L433.12,257.01 L436.41,257.02 L439.83,257.02 L443.34,257.02 L446.90,257.01 L450.47,257.01 L454.02,257.00 L457.50,257.00" stroke="#ff8000"/>
</g>
<g fill="none" stroke="#000" stroke-width="1"><rect x="49.00" y="6.50" width="408.50" height="252.00"/>
<path d="M63.33,258.50v-2.90M63.33,6.50v2.90M77.67,258.50v-2.90M77.67,6.50v2.90M92.00,258.50v-2.90M92.00,6.50v2.90M106.34,258.50v-2.90M106.34,6.50v2.90M120.67,258.50v-5.00M120.67,6.50v5.00M135.00,258.50v-2.90M135.00,6.50v2.90M149.34,258.50v-2.90M149.34,6.50v2.90M163.67,258.50v-2.90M163.67,6.50v2.90M178.01,258.50v-2.90M178.01,6.50v2.90M192.34,258.50v-5.00M192.34,6.50v5.00M206.67,258.50v-2.90M206.67,6.50v2.90M221.01,258.50v-2.90M221.01,6.50v2.90M235.34,258.50v-2.90M235.34,6.50v2.90M249.68,258.50v-2.90M249.68,6.50v2.90M264.01,258.50v-5.00M264.01,6.50v5.00M278.34,258.50v-2.90M278.34,6.50v2.90M292.68,258.50v-2.90M292.68,6.50v2.90M307.01,258.50v-2.90M307.01,6.50v2.90M321.35,258.50v-2.90M321.35,6.50v2.90M335.68,258.50v-5.00M335.68,6.50v5.00M350.01,258.50v-2.90M350.01,6.50v2.90M364.35,258.50v-2.90M364.35,6.50v2.90M378.68,258.50v-2.90M378.68,6.50v2.90M393.02,258.50v-2.90M393.02,6.50v2.90M407.35,258.50v-5.00M407.35,6.50v5.00M421.68,258.50v-2.90M421.68,6.50v2.90M436.02,258.50v-2.90M436.02,6.50v2.90M450.35,258.50v-2.90M450.35,6.50v2.90M49.00,208.10h2.90M457.50,208.10h-2.90M49.00,157.70h5.00M457.50,157.70h-5.00M49.00,107.30h2.90M457.50,107.30h-2.90M49.00,56.90h5.00M457.50,56.90h-5.00M49.00,6.50h2.90M457.50,6.50h-2.90"/></g>
<g font-family="'Liberation Sans', sans-serif" font-size="15.60" fill="#000">
<path d="M1059 705Q1059 352 934.5 166.0Q810 -20 567 -20Q324 -20 202.0 165.0Q80 350 80 705Q80 1068 198.5 1249.0Q317 1430 573 1430Q822 1430 940.5 1247.0Q1059 1064 1059 705ZM876 705Q876 1010 805.5 1147.0Q735 1284 573 1284Q407 1284 334.5 1149.0Q262 1014 262 705Q262 405 335.5 266.0Q409 127 569 127Q728 127 802.0 269.0Q876 411 876 705Z" transform="translate(44.36,276.25) scale(0.007617,-0.007617)"/>
<path d="M515 0V1237L197 1010V1180L530 1409H696V0Z" transform="translate(116.97,276.25) scale(0.007617,-0.007617)"/>
<path d="M103 0V127Q154 244 227.5 333.5Q301 423 382.0 495.5Q463 568 542.5 630.0Q622 692 686.0 754.0Q750 816 789.5 884.0Q829 952 829 1038Q829 1154 761.0 1218.0Q693 1282 572 1282Q457 1282 382.5 1219.5Q308 1157 295 1044L111 1061Q131 1230 254.5 1330.0Q378 1430 572 1430Q785 1430 899.5 1329.5Q1014 1229 1014 1044Q1014 962 976.5 881.0Q939 800 865.0 719.0Q791 638 582 468Q467 374 399.0 298.5Q331 223 301 153H1036V0Z" transform="translate(187.70,276.25) scale(0.007617,-0.007617)"/>
<path d="M1049 389Q1049 194 925.0 87.0Q801 -20 571 -20Q357 -20 229.5 76.5Q102 173 78 362L264 379Q300 129 571 129Q707 129 784.5 196.0Q862 263 862 395Q862 510 773.5 574.5Q685 639 518 639H416V795H514Q662 795 743.5 859.5Q825 924 825 1038Q825 1151 758.5 1216.5Q692 1282 561 1282Q442 1282 368.5 1221.0Q295 1160 283 1049L102 1063Q122 1236 245.5 1333.0Q369 1430 563 1430Q775 1430 892.5 1331.5Q1010 1233 1010 1057Q1010 922 934.5 837.5Q859 753 715 723V719Q873 702 961.0 613.0Q1049 524 1049 389Z" transform="translate(259.42,276.25) scale(0.007617,-0.007617)"/>
<path d="M881 319V0H711V319H47V459L692 1409H881V461H1079V319ZM711 1206Q709 1200 683.0 1153.0Q657 1106 644 1087L283 555L229 481L213 461H711Z" transform="translate(331.09,276.25) scale(0.007617,-0.007617)"/>
<path d="M1053 459Q1053 236 920.5 108.0Q788 -20 553 -20Q356 -20 235.0 66.0Q114 152 82 315L264 336Q321 127 557 127Q702 127 784.0 214.5Q866 302 866 455Q866 588 783.5 670.0Q701 752 561 752Q488 752 425.0 729.0Q362 706 299 651H123L170 1409H971V1256H334L307 809Q424 899 598 899Q806 899 929.5 777.0Q1053 655 1053 459Z" transform="translate(402.73,276.25) scale(0.007617,-0.007617)"/>
<path d="M1059 705Q1059 352 934.5 166.0Q810 -20 567 -20Q324 -20 202.0 165.0Q80 350 80 705Q80 1068 198.5 1249.0Q317 1430 573 1430Q822 1430 940.5 1247.0Q1059 1064 1059 705ZM876 705Q876 1010 805.5 1147.0Q735 1284 573 1284Q407 1284 334.5 1149.0Q262 1014 262 705Q262 405 335.5 266.0Q409 127 569 127Q728 127 802.0 269.0Q876 411 876 705Z" transform="translate(37.03,263.80) scale(0.007617,-0.007617)"/>
<path d="M515 0V1237L197 1010V1180L530 1409H696V0Z" transform="translate(37.60,163.00) scale(0.007617,-0.007617)"/>
<path d="M103 0V127Q154 244 227.5 333.5Q301 423 382.0 495.5Q463 568 542.5 630.0Q622 692 686.0 754.0Q750 816 789.5 884.0Q829 952 829 1038Q829 1154 761.0 1218.0Q693 1282 572 1282Q457 1282 382.5 1219.5Q308 1157 295 1044L111 1061Q131 1230 254.5 1330.0Q378 1430 572 1430Q785 1430 899.5 1329.5Q1014 1229 1014 1044Q1014 962 976.5 881.0Q939 800 865.0 719.0Q791 638 582 468Q467 374 399.0 298.5Q331 223 301 153H1036V0Z" transform="translate(37.21,62.20) scale(0.007617,-0.007617)"/>
</g>
<g font-family="'Liberation Serif', serif" font-size="15.40" fill="#000">
<path d="M322.0,35.70H335" stroke="#ff0000" stroke-width="2.0" fill="none"/>
<text x="337.9" y="40.70">D = 0</text>
<path d="M322.0,52.00H335" stroke="#ff8000" stroke-width="2.0" fill="none"/>
<text x="337.9" y="57.00">D = 0.005</text>
<path d="M322.5,68.30H335" stroke="#ff00ff" stroke-width="2.0" fill="none" stroke-dasharray="6.2 6.3"/>
<text x="337.9" y="73.30">D = 0.00875</text>
<path d="M322.7,84.60H335" stroke="#0000ff" stroke-width="2.0" fill="none" stroke-dasharray="1.2 5.8 5 9"/>
<text x="337.9" y="89.60">D = -0.00625</text>
<path d="M322.0,100.90H335" stroke="#00a800" stroke-width="2.0" fill="none"/>
<text x="337.9" y="105.90">D = -0.01312</text>
</g>
<g font-family="'Liberation Serif', serif" fill="#000">
<text x="225.69" y="302.90" font-size="19.00" font-style="italic">ω</text>
<text x="238.92" y="306.60" font-size="16.00" font-style="italic">L</text>
<text x="252.76" y="304.09" font-size="18.00">[</text>
<text x="258.59" y="303.00" font-size="19.00">ϵ</text>
<text x="266.25" y="306.60" font-size="15.00">0</text>
<text x="274.30" y="304.09" font-size="18.00">]</text>
<text x="60.28" y="61.24" font-size="17.20">(</text>
<text x="66.16" y="61.75" font-size="19.50">a</text>
<text x="75.34" y="61.24" font-size="17.20">)</text>
</g>
<g font-family="'Liberation Serif', serif" fill="#000" transform="rotate(-90)">
<text x="-174.21" y="22.50" font-size="19.60" font-style="italic">I</text>
<text x="-167.33" y="25.60" font-size="15.00" font-style="italic">L</text>
<text x="-152.34" y="22.84" font-size="18.00">[</text>
<text x="-147.45" y="22.50" font-size="19.50">1</text>
<text x="-138.05" y="22.50" font-size="19.80">0</text>
<text x="-127.50" y="15.10" font-size="14.00">−</text>
<text x="-119.34" y="14.20" font-size="14.50">2</text>
<text x="-111.71" y="22.50" font-size="19.50">ϵ</text>
<text x="-104.05" y="25.50" font-size="15.00">0</text>
<text x="-96.45" y="22.84" font-size="18.00">]</text>
</g>
</svg>
</body></html>
